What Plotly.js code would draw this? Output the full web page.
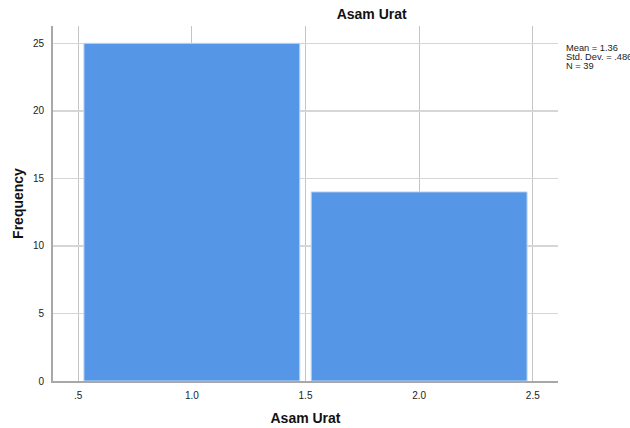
<!DOCTYPE html>
<html>
<head>
<meta charset="utf-8">
<script src="https://cdn.plot.ly/plotly-3.0.1.min.js"></script>
<style>html,body{margin:0;padding:0;background:#fff;}#chart{width:630px;height:428px;}</style>
</head>
<body>
<div id="chart"></div>
<script>
// Data
const categories = [1.0, 2.0];
const frequencies = [25, 14];
const xTickVals = [0.5, 1.0, 1.5, 2.0, 2.5];
const xTickText = ['.5', '1.0', '1.5', '2.0', '2.5'];
const yTickVals = [0, 5, 10, 15, 20, 25];
const statsLines = ['Mean = 1.36', 'Std. Dev. = .486', 'N = 39'];

const FONT = 'Liberation Sans, Arial, sans-serif';

const trace = {
  type: 'bar',
  x: categories,
  y: frequencies,
  width: 0.95,
  marker: { color: '#5596e6', line: { color: '#c2d8f4', width: 1 } },
  hoverinfo: 'x+y'
};

const statsY = [0.938, 0.913, 0.887];
const annotations = statsLines.map((t, i) => ({
  text: t, xref: 'paper', yref: 'paper', x: 1.012, y: statsY[i],
  xanchor: 'left', yanchor: 'middle', showarrow: false,
  font: { family: FONT, size: 9.3, color: '#222' }
}));

const layout = {
  width: 630, height: 428,
  margin: { l: 53, r: 72, t: 26, b: 47 },
  paper_bgcolor: '#fff', plot_bgcolor: '#fff',
  showlegend: false,
  font: { family: FONT, color: '#222' },
  title: {
    text: '<b>Asam Urat</b>', xref: 'container', yref: 'container',
    x: 0.59, xanchor: 'center', y: 0.966, yanchor: 'middle',
    font: { family: FONT, size: 14, color: '#111' }
  },
  xaxis: {
    range: [0.389, 2.611],
    tickmode: 'array', tickvals: xTickVals, ticktext: xTickText,
    showgrid: true, gridcolor: '#c4c4c4', gridwidth: 1,
    zeroline: false,
    showline: true, linecolor: '#a8a8a8', linewidth: 2,
    ticks: '', ticklabelstandoff: 4,
    tickfont: { family: FONT, size: 10, color: '#222' },
    title: { text: '<b>Asam Urat</b>', standoff: 13, font: { family: FONT, size: 14, color: '#111' } }
  },
  yaxis: {
    range: [0, 26.28],
    tickmode: 'array', tickvals: yTickVals,
    showgrid: true, gridcolor: '#d6d6d6', gridwidth: 1.5,
    zeroline: false,
    showline: true, linecolor: '#a8a8a8', linewidth: 2,
    ticks: '', ticklabelstandoff: 5,
    tickfont: { family: FONT, size: 10, color: '#222' },
    title: { text: '<b>Frequency</b>', standoff: 6, font: { family: FONT, size: 14, color: '#111' } }
  },
  annotations: annotations
};

Plotly.newPlot('chart', [trace], layout, { displayModeBar: false, staticPlot: true });
</script>
</body>
</html>
